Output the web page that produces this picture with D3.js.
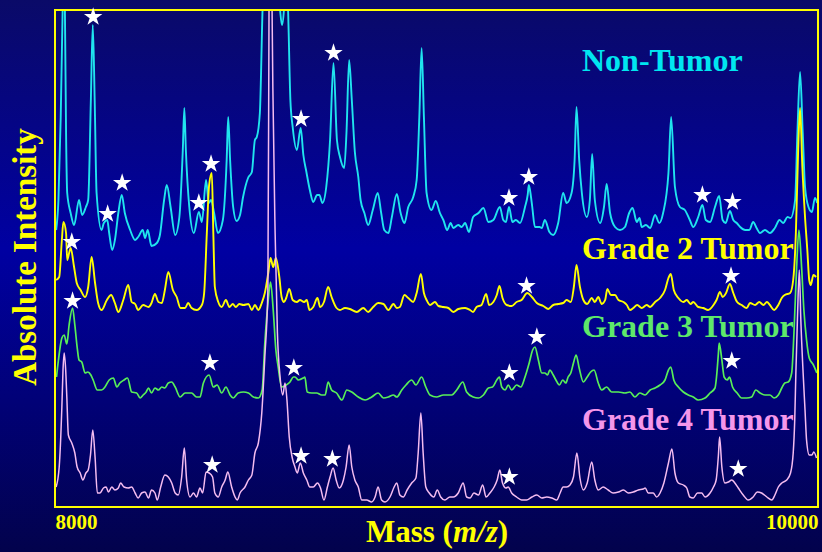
<!DOCTYPE html>
<html>
<head>
<meta charset="utf-8">
<script src="https://cdn.jsdelivr.net/npm/d3@7"></script>
<style>
  html, body { margin: 0; padding: 0; background: #000060; }
  svg { display: block; }
</style>
</head>
<body>
<svg id="chart" width="822" height="552"></svg>
<script>
// ---- Data: MALDI mass spectra, [mass (m/z), absolute intensity] ----
const massTicks = [8000, 10000];
const seriesNames = ["Non-Tumor", "Grade 2 Tumor", "Grade 3 Tumor", "Grade 4 Tumor"];

const nonTumor = [[8003,277],[8009,307],[8015,390],[8020,497],[8023,570],[8026,497],[8029,374],[8032,314],[8041,294],[8050,282],[8063,307],[8071,292],[8081,300],[8087,307],[8094,407],[8099,482],[8104,407],[8109,314],[8122,277],[8128,284],[8137,287],[8142,274],[8150,257],[8157,267],[8166,294],[8175,312],[8183,294],[8197,277],[8210,267],[8218,270],[8230,277],[8236,269],[8243,277],[8253,261],[8267,264],[8275,272],[8286,307],[8293,322],[8303,300],[8315,272],[8326,290],[8335,357],[8339,399],[8343,357],[8352,300],[8364,274],[8377,295],[8385,285],[8396,327],[8403,304],[8409,307],[8417,294],[8427,274],[8440,287],[8450,347],[8454,390],[8459,347],[8467,300],[8476,286],[8485,292],[8493,310],[8506,329],[8516,335],[8524,367],[8529,370],[8537,394],[8544,497],[8550,560],[8577,590],[8590,497],[8595,482],[8600,497],[8606,550],[8611,497],[8617,407],[8623,380],[8634,357],[8644,379],[8651,352],[8659,335],[8668,317],[8677,305],[8687,312],[8693,312],[8701,304],[8711,320],[8721,367],[8730,444],[8739,367],[8747,350],[8758,339],[8764,374],[8771,447],[8778,407],[8786,355],[8795,330],[8801,307],[8811,294],[8821,282],[8833,297],[8846,314],[8855,294],[8863,277],[8874,274],[8883,290],[8896,313],[8906,294],[8916,284],[8926,300],[8939,310],[8948,327],[8955,390],[8961,459],[8967,390],[8974,314],[8987,297],[8998,306],[9009,294],[9018,287],[9028,277],[9037,284],[9044,279],[9057,282],[9066,280],[9075,284],[9085,275],[9096,290],[9110,294],[9123,299],[9136,285],[9149,287],[9166,300],[9175,287],[9182,285],[9190,300],[9199,285],[9208,287],[9219,284],[9232,300],[9239,312],[9242,322],[9247,312],[9251,300],[9258,280],[9270,280],[9276,279],[9284,287],[9296,275],[9306,272],[9319,284],[9332,314],[9341,304],[9354,314],[9362,347],[9367,400],[9374,347],[9381,314],[9394,290],[9402,307],[9408,353],[9415,307],[9429,284],[9439,300],[9446,323],[9455,294],[9468,280],[9481,277],[9494,280],[9505,294],[9514,299],[9525,285],[9532,289],[9538,280],[9549,282],[9560,279],[9573,292],[9584,284],[9594,294],[9608,334],[9615,390],[9625,320],[9638,300],[9651,297],[9664,287],[9673,280],[9686,290],[9697,302],[9706,287],[9717,285],[9730,300],[9741,311],[9750,287],[9758,284],[9769,296],[9778,287],[9787,284],[9796,280],[9809,277],[9820,277],[9830,285],[9839,279],[9848,274],[9861,277],[9874,274],[9887,279],[9899,287],[9909,284],[9920,290],[9928,289],[9940,307],[9946,374],[9953,435],[9960,374],[9966,320],[9975,300],[9984,295],[9992,309],[9998,304]];

const grade2 = [[8003,227],[8011,230],[8018,267],[8022,285],[8029,274],[8032,247],[8037,254],[8041,259],[8050,240],[8057,224],[8067,217],[8079,210],[8087,220],[8096,250],[8105,224],[8113,204],[8122,197],[8136,207],[8147,212],[8157,204],[8166,195],[8179,207],[8192,222],[8201,205],[8210,203],[8218,197],[8231,202],[8245,200],[8253,204],[8262,213],[8271,205],[8280,204],[8288,217],[8297,235],[8309,217],[8319,210],[8329,199],[8341,199],[8349,204],[8358,199],[8371,197],[8385,202],[8391,214],[8398,274],[8404,322],[8411,334],[8415,274],[8419,220],[8428,205],[8437,200],[8448,207],[8457,200],[8466,203],[8474,200],[8483,203],[8494,202],[8507,203],[8516,197],[8524,202],[8533,197],[8542,204],[8550,214],[8559,234],[8565,249],[8572,240],[8579,249],[8588,230],[8594,210],[8600,205],[8606,209],[8614,218],[8623,207],[8634,205],[8642,207],[8653,205],[8660,207],[8667,197],[8677,200],[8688,209],[8695,200],[8705,205],[8716,220],[8725,210],[8738,199],[8747,197],[8760,199],[8773,198],[8791,195],[8808,199],[8821,195],[8834,200],[8847,204],[8861,203],[8874,197],[8887,203],[8896,199],[8904,200],[8916,212],[8926,209],[8939,205],[8948,214],[8959,233],[8967,214],[8974,207],[8983,202],[8996,205],[9005,201],[9018,200],[9031,199],[9044,195],[9057,198],[9075,199],[9088,197],[9096,195],[9105,200],[9118,202],[9130,213],[9138,202],[9149,205],[9158,212],[9165,221],[9173,209],[9184,202],[9197,201],[9210,205],[9223,207],[9238,214],[9250,210],[9263,204],[9280,201],[9293,198],[9306,202],[9319,203],[9332,204],[9341,207],[9352,205],[9360,220],[9367,242],[9376,220],[9385,207],[9395,203],[9407,209],[9415,205],[9424,210],[9433,203],[9442,207],[9448,218],[9457,212],[9468,212],[9477,207],[9490,205],[9499,202],[9507,197],[9516,199],[9526,202],[9538,199],[9551,202],[9560,200],[9573,205],[9586,209],[9599,217],[9608,229],[9614,233],[9622,217],[9634,209],[9647,205],[9656,207],[9666,203],[9673,205],[9686,200],[9699,199],[9712,197],[9726,202],[9734,207],[9743,215],[9750,210],[9759,214],[9769,223],[9778,214],[9788,205],[9800,202],[9813,199],[9822,204],[9835,202],[9846,205],[9857,202],[9866,205],[9874,202],[9885,197],[9896,202],[9905,209],[9913,212],[9927,214],[9935,227],[9942,274],[9948,357],[9953,399],[9959,340],[9966,290],[9972,257],[9977,227],[9981,222],[9988,232],[9995,230]];

const grade3 = [[8004,130],[8009,147],[8018,169],[8024,172],[8031,163],[8037,182],[8046,199],[8052,182],[8058,160],[8063,147],[8070,145],[8079,134],[8086,135],[8094,132],[8100,127],[8111,117],[8122,117],[8131,120],[8142,127],[8153,129],[8162,120],[8170,124],[8181,127],[8190,129],[8201,115],[8214,114],[8223,109],[8231,112],[8239,115],[8245,119],[8253,114],[8262,119],[8271,117],[8280,120],[8288,119],[8297,124],[8306,125],[8315,120],[8328,110],[8341,114],[8358,114],[8371,110],[8380,110],[8389,124],[8404,132],[8415,120],[8425,122],[8437,114],[8448,120],[8459,112],[8467,109],[8480,114],[8494,115],[8507,114],[8520,110],[8533,109],[8543,117],[8550,164],[8559,207],[8565,225],[8572,197],[8579,157],[8585,140],[8594,120],[8606,122],[8616,125],[8625,130],[8629,130],[8638,127],[8651,129],[8655,130],[8661,115],[8673,114],[8686,114],[8699,112],[8708,112],[8716,125],[8725,117],[8738,114],[8752,107],[8765,117],[8778,115],[8795,110],[8813,107],[8830,110],[8847,114],[8861,109],[8874,110],[8887,112],[8896,110],[8909,117],[8920,122],[8935,127],[8946,122],[8961,130],[8972,120],[8983,112],[9000,110],[9018,112],[9040,112],[9053,117],[9069,125],[9079,115],[9096,110],[9110,109],[9123,112],[9136,119],[9147,120],[9158,127],[9165,130],[9171,120],[9180,117],[9188,122],[9197,117],[9210,122],[9221,120],[9232,130],[9243,144],[9252,157],[9258,160],[9267,147],[9276,134],[9284,134],[9291,132],[9297,137],[9306,132],[9313,127],[9322,122],[9331,127],[9339,124],[9345,130],[9352,134],[9359,144],[9366,152],[9374,139],[9385,125],[9395,130],[9404,135],[9413,137],[9424,124],[9433,117],[9446,120],[9459,115],[9477,115],[9494,114],[9507,115],[9520,110],[9533,114],[9547,112],[9560,117],[9573,119],[9586,122],[9599,127],[9608,137],[9614,140],[9622,127],[9634,120],[9647,115],[9660,112],[9673,110],[9686,107],[9704,109],[9717,114],[9730,119],[9734,130],[9739,154],[9741,164],[9748,147],[9754,130],[9762,127],[9768,130],[9776,120],[9788,114],[9800,109],[9813,109],[9826,110],[9837,117],[9848,114],[9861,112],[9874,112],[9885,109],[9896,112],[9905,119],[9913,124],[9922,125],[9931,134],[9937,174],[9944,240],[9950,277],[9957,240],[9963,197],[9970,167],[9977,149],[9988,142],[9997,134]];

const grade4 = [[8003,20],[8011,40],[8018,100],[8021,137],[8024,154],[8028,137],[8031,110],[8035,72],[8044,64],[8052,54],[8058,40],[8066,34],[8073,27],[8081,34],[8087,37],[8093,52],[8099,77],[8105,50],[8111,14],[8118,14],[8127,19],[8134,20],[8140,15],[8149,20],[8157,17],[8166,19],[8172,24],[8181,20],[8192,19],[8201,20],[8210,14],[8218,9],[8227,14],[8236,15],[8245,9],[8253,17],[8262,14],[8268,7],[8277,20],[8288,32],[8297,30],[8306,24],[8315,14],[8323,12],[8332,30],[8339,59],[8345,27],[8354,10],[8363,14],[8371,10],[8380,19],[8387,14],[8396,35],[8404,34],[8413,30],[8419,14],[8428,10],[8437,20],[8446,27],[8453,35],[8463,20],[8472,10],[8478,7],[8485,14],[8498,20],[8507,27],[8516,32],[8524,54],[8533,64],[8542,94],[8550,150],[8558,217],[8561,497],[8565,700],[8569,497],[8571,420],[8577,274],[8583,174],[8590,130],[8597,112],[8603,124],[8608,107],[8614,70],[8622,49],[8629,40],[8635,34],[8643,44],[8651,34],[8660,27],[8668,20],[8677,20],[8688,24],[8696,19],[8705,7],[8714,20],[8721,30],[8729,39],[8737,27],[8745,19],[8756,27],[8763,40],[8771,62],[8778,40],[8786,27],[8795,20],[8804,7],[8817,7],[8830,5],[8839,10],[8847,20],[8856,7],[8865,5],[8878,10],[8889,20],[8896,24],[8904,12],[8913,10],[8923,17],[8935,24],[8946,29],[8952,54],[8959,94],[8965,54],[8972,20],[8981,14],[8993,10],[9002,17],[9011,10],[9022,7],[9035,10],[9044,10],[9057,14],[9070,24],[9079,10],[9088,9],[9098,14],[9110,12],[9121,22],[9130,10],[9140,14],[9151,20],[9159,27],[9166,37],[9173,24],[9182,19],[9188,20],[9197,14],[9210,10],[9223,7],[9236,7],[9250,10],[9263,12],[9276,9],[9289,10],[9302,9],[9315,7],[9324,14],[9332,20],[9341,20],[9350,22],[9359,30],[9368,54],[9376,29],[9385,17],[9395,24],[9407,45],[9415,27],[9424,17],[9437,20],[9450,17],[9463,14],[9477,15],[9490,17],[9503,14],[9516,15],[9529,17],[9542,18],[9547,19],[9555,14],[9568,14],[9577,10],[9586,14],[9596,24],[9608,44],[9617,58],[9625,34],[9634,24],[9647,22],[9656,19],[9664,10],[9673,9],[9684,14],[9695,14],[9704,10],[9717,14],[9726,20],[9733,27],[9739,52],[9742,70],[9748,40],[9756,24],[9765,25],[9774,27],[9782,24],[9791,19],[9804,12],[9817,7],[9830,10],[9841,15],[9852,14],[9866,10],[9879,7],[9887,12],[9896,20],[9905,24],[9918,27],[9928,34],[9935,54],[9939,87],[9942,134],[9946,187],[9951,237],[9955,187],[9961,134],[9966,97],[9970,67],[9977,52],[9984,52],[9989,55],[9996,49]];

// Marked peaks (star centres), [mass, intensity]
const nonTumorStars = [[8100,490],[8138,293],[8176,324],[8377,304],[8645,388],[8730,454],[9190,309],[9242,330],[9697,312],[9776,305]];
const grade2Stars   = [[8044,265],[8409,343],[9236,221],[9772,231]];
const grade3Stars   = [[8046,206],[8406,144],[8626,139],[9191,134],[9263,170],[9774,146]];
const grade4Stars   = [[8412,42],[8645,51],[8727,48],[9191,30],[9791,38]];

// ---- Layout ----
const svg = d3.select("#chart");
const W = 822, H = 552;
const plot = { left: 55, top: 10, right: 818, bottom: 507 };

const x = d3.scaleLinear().domain([8000, 10000]).range([plot.left, plot.right]);
const y = d3.scaleLinear().domain([0, 500]).range([plot.bottom, plot.top - 3]);

const serif = "'Times New Roman', 'Liberation Serif', 'DejaVu Serif', serif";

const defs = svg.append("defs");
const bg = defs.append("linearGradient")
  .attr("id", "bg").attr("x1", 0).attr("y1", 0).attr("x2", 0).attr("y2", 1);
bg.append("stop").attr("offset", "0%").attr("stop-color", "#0a0a68");
bg.append("stop").attr("offset", "45%").attr("stop-color", "#0000a2");
bg.append("stop").attr("offset", "100%").attr("stop-color", "#02024c");

defs.append("clipPath").attr("id", "plotClip")
  .append("rect")
  .attr("x", plot.left).attr("y", plot.top)
  .attr("width", plot.right - plot.left).attr("height", plot.bottom - plot.top);

svg.append("rect").attr("width", W).attr("height", H).attr("fill", "url(#bg)");

// Series labels (drawn beneath the traces)
const series = [
  { name: seriesNames[0], data: nonTumor, stars: nonTumorStars, line: "#20e4ee", label: "#00e6f0", width: 1.9, labelY: 71 },
  { name: seriesNames[1], data: grade2,   stars: grade2Stars,   line: "#ffff00", label: "#ffff00", width: 1.9, labelY: 259 },
  { name: seriesNames[2], data: grade3,   stars: grade3Stars,   line: "#58ee58", label: "#5ee86a", width: 1.7, labelY: 337 },
  { name: seriesNames[3], data: grade4,   stars: grade4Stars,   line: "#f4bcf0", label: "#f596ea", width: 1.5, labelY: 430 }
];

svg.append("g").selectAll("text")
  .data(series)
  .join("text")
  .attr("x", 582)
  .attr("y", d => d.labelY)
  .attr("fill", d => d.label)
  .attr("font-family", serif)
  .attr("font-weight", "bold")
  .attr("font-size", 32)
  .text(d => d.name);

// Spectra
const line = d3.line()
  .x(d => x(d[0]))
  .y(d => y(d[1]))
  .curve(d3.curveMonotoneX);

const traces = svg.append("g").attr("clip-path", "url(#plotClip)");
traces.selectAll("path")
  .data(series)
  .join("path")
  .attr("d", d => line(d.data))
  .attr("fill", "none")
  .attr("stroke", d => d.line)
  .attr("stroke-width", d => d.width)
  .attr("stroke-linejoin", "round");

// Frame
svg.append("rect")
  .attr("x", plot.left).attr("y", plot.top)
  .attr("width", plot.right - plot.left).attr("height", plot.bottom - plot.top)
  .attr("fill", "none").attr("stroke", "#ffff00").attr("stroke-width", 2);

// Star markers
const star = d3.symbol().type(d3.symbolStar).size(105);
svg.append("g").selectAll("path")
  .data(series.flatMap(s => s.stars))
  .join("path")
  .attr("transform", d => `translate(${x(d[0])},${y(d[1])})`)
  .attr("d", star)
  .attr("fill", "#ffffff");

// Mass axis
const xAxis = svg.append("g")
  .attr("transform", `translate(0,${plot.bottom})`)
  .call(d3.axisBottom(x).tickValues(massTicks).tickSize(0).tickFormat(d3.format("d")));
xAxis.select(".domain").remove();
xAxis.selectAll("text")
  .attr("y", 22).attr("dy", null)
  .attr("fill", "#ffff00")
  .attr("font-family", serif)
  .attr("font-weight", "bold")
  .attr("font-size", 21)
  .attr("text-anchor", (d, i) => i === 0 ? "start" : "end");

// Axis titles
const xTitle = svg.append("text")
  .attr("x", 437).attr("y", 542)
  .attr("text-anchor", "middle")
  .attr("fill", "#ffff00")
  .attr("font-family", serif)
  .attr("font-weight", "bold")
  .attr("font-size", 31);
xTitle.append("tspan").text("Mass (");
xTitle.append("tspan").attr("font-style", "italic").text("m/z");
xTitle.append("tspan").text(")");

svg.append("text")
  .attr("transform", "translate(36,257) rotate(-90)")
  .attr("text-anchor", "middle")
  .attr("fill", "#ffff00")
  .attr("font-family", serif)
  .attr("font-weight", "bold")
  .attr("font-size", 33)
  .text("Absolute Intensity");
</script>
</body>
</html>
